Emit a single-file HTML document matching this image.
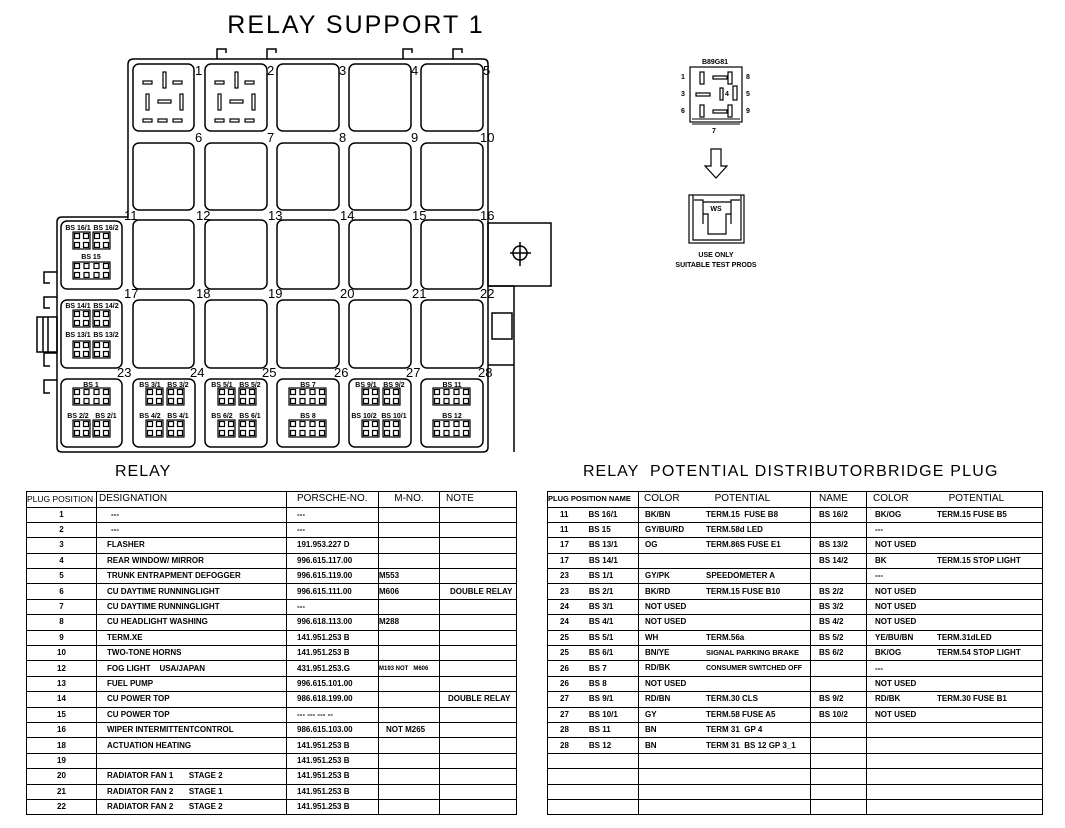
<!DOCTYPE html>
<html><head><meta charset="utf-8">
<style>
html,body{margin:0;padding:0;background:#fff;}
body{width:1065px;height:828px;position:relative;overflow:hidden;font-family:"Liberation Sans",sans-serif;}
svg{position:absolute;left:0;top:0;}
table{position:absolute;border-collapse:collapse;table-layout:fixed;font-family:"Liberation Sans",sans-serif;font-size:8px;font-weight:bold;}
td{border:1.3px solid #000;padding:0;height:14.4px;line-height:10px;white-space:nowrap;overflow:hidden;vertical-align:middle;}
tr.h td{height:14.5px;font-weight:normal;font-size:10px;}
.c{text-align:center}
.p{padding-left:10px}
.t{position:absolute;font-size:16px;letter-spacing:1px;white-space:nowrap;}
</style></head><body>
<svg width="1065" height="828" viewBox="0 0 1065 828">
<defs>
<g id="q4" fill="none" stroke="#000" stroke-width="1.2"><rect x="0" y="0" width="17" height="17"/><rect x="1.5" y="1.5" width="5" height="5"/><rect x="10.5" y="1.5" width="5" height="5"/><rect x="1.5" y="10.5" width="5" height="5"/><rect x="10.5" y="10.5" width="5" height="5"/></g>
<g id="q8" fill="none" stroke="#000" stroke-width="1.2"><rect x="0" y="0" width="37" height="17"/><rect x="1.5" y="1.5" width="5" height="5"/><rect x="11" y="1.5" width="5" height="5"/><rect x="21" y="1.5" width="5" height="5"/><rect x="30.5" y="1.5" width="5" height="5"/><rect x="1.5" y="10.5" width="5" height="5"/><rect x="11" y="10.5" width="5" height="5"/><rect x="21" y="10.5" width="5" height="5"/><rect x="30.5" y="10.5" width="5" height="5"/></g>
<g id="sock" fill="none" stroke="#000" stroke-width="1.2"><rect x="10" y="17" width="9" height="3"/><rect x="30" y="8" width="3" height="16"/><rect x="40" y="17" width="9" height="3"/><rect x="13" y="30" width="3" height="16"/><rect x="25" y="36" width="13" height="3"/><rect x="47" y="30" width="3" height="16"/><rect x="10" y="55" width="9" height="3"/><rect x="25" y="55" width="9" height="3"/><rect x="40" y="55" width="9" height="3"/></g>
</defs>
<text x="356" y="33" font-size="25" text-anchor="middle" letter-spacing="2" font-family="Liberation Sans">RELAY SUPPORT 1</text>
<g fill="none" stroke="#000" stroke-width="1.5">
<path d="M134 59 H483 Q488 59 488 64 V447 Q488 452 483 452 H62 Q57 452 57 447 V222 Q57 217 62 217 H128 V64 Q128 59 134 59 Z"/>
<path d="M217 59 V49 H226 V53 M267 59 V49 H276 V53 M403 59 V49 H412 V53 M453 59 V49 H462 V53"/>
<path d="M57 272 H44 V283 H50 M57 297 H44 V308 H50 M57 353 H44 V366 H50 M57 380 H44 V393 H50"/>
<rect x="37" y="317" width="20" height="35"/><path d="M43 317 V352 M48 317 V352"/>
<rect x="488" y="223" width="63" height="63"/>
<circle cx="520" cy="253" r="7"/><path d="M510 253 H531 M520 242 V266"/>
<path d="M488 286 H514 V452"/><rect x="492" y="313" width="20" height="26"/><path d="M488 365 H514"/>
</g>
<g fill="none" stroke="#000" stroke-width="1.5">
<rect x="133" y="64" width="61" height="67" rx="6"/><rect x="205" y="64" width="62" height="67" rx="6"/><rect x="277" y="64" width="62" height="67" rx="6"/><rect x="349" y="64" width="62" height="67" rx="6"/><rect x="421" y="64" width="62" height="67" rx="6"/>
<rect x="133" y="143" width="61" height="67" rx="6"/><rect x="205" y="143" width="62" height="67" rx="6"/><rect x="277" y="143" width="62" height="67" rx="6"/><rect x="349" y="143" width="62" height="67" rx="6"/><rect x="421" y="143" width="62" height="67" rx="6"/>
<rect x="133" y="220" width="61" height="69" rx="6"/><rect x="205" y="220" width="62" height="69" rx="6"/><rect x="277" y="220" width="62" height="69" rx="6"/><rect x="349" y="220" width="62" height="69" rx="6"/><rect x="421" y="220" width="62" height="69" rx="6"/>
<rect x="133" y="300" width="61" height="68" rx="6"/><rect x="205" y="300" width="62" height="68" rx="6"/><rect x="277" y="300" width="62" height="68" rx="6"/><rect x="349" y="300" width="62" height="68" rx="6"/><rect x="421" y="300" width="62" height="68" rx="6"/>
<rect x="61" y="221" width="61" height="68" rx="6"/><rect x="61" y="300" width="61" height="68" rx="6"/>
<rect x="61" y="379" width="61" height="68" rx="6"/><rect x="133" y="379" width="62" height="68" rx="6"/><rect x="205" y="379" width="62" height="68" rx="6"/><rect x="277" y="379" width="62" height="68" rx="6"/><rect x="349" y="379" width="62" height="68" rx="6"/><rect x="421" y="379" width="62" height="68" rx="6"/>
</g>
<use href="#sock" x="133" y="64"/><use href="#sock" x="205" y="64"/>
<g font-size="13" font-family="Liberation Sans">
<text x="195" y="75">1</text><text x="267" y="75">2</text><text x="339" y="75">3</text><text x="411" y="75">4</text><text x="483" y="75">5</text>
<text x="195" y="142">6</text><text x="267" y="142">7</text><text x="339" y="142">8</text><text x="411" y="142">9</text><text x="480" y="142">10</text>
<text x="124" y="220">11</text><text x="196" y="220">12</text><text x="268" y="220">13</text><text x="340" y="220">14</text><text x="412" y="220">15</text><text x="480" y="220">16</text>
<text x="124" y="298">17</text><text x="196" y="298">18</text><text x="268" y="298">19</text><text x="340" y="298">20</text><text x="412" y="298">21</text><text x="480" y="298">22</text>
<text x="117" y="377">23</text><text x="190" y="377">24</text><text x="262" y="377">25</text><text x="334" y="377">26</text><text x="406" y="377">27</text><text x="478" y="377">28</text>
</g>
<g font-size="7" font-weight="bold" font-family="Liberation Sans" text-anchor="middle">
<text x="78" y="230">BS 16/1</text><text x="106" y="230">BS 16/2</text><text x="91" y="259">BS 15</text>
<text x="78" y="308">BS 14/1</text><text x="106" y="308">BS 14/2</text><text x="78" y="337">BS 13/1</text><text x="106" y="337">BS 13/2</text>
<text x="91" y="387">BS 1</text><text x="78" y="418">BS 2/2</text><text x="106" y="418">BS 2/1</text>
<text x="150" y="387">BS 3/1</text><text x="178" y="387">BS 3/2</text><text x="150" y="418">BS 4/2</text><text x="178" y="418">BS 4/1</text>
<text x="222" y="387">BS 5/1</text><text x="250" y="387">BS 5/2</text><text x="222" y="418">BS 6/2</text><text x="250" y="418">BS 6/1</text>
<text x="308" y="387">BS 7</text><text x="308" y="418">BS 8</text>
<text x="366" y="387">BS 9/1</text><text x="394" y="387">BS 9/2</text><text x="364" y="418">BS 10/2</text><text x="394" y="418">BS 10/1</text>
<text x="452" y="387">BS 11</text><text x="452" y="418">BS 12</text>
</g>
<use href="#q4" x="73" y="232"/><use href="#q4" x="93" y="232"/><use href="#q8" x="73" y="262"/>
<use href="#q4" x="73" y="310"/><use href="#q4" x="93" y="310"/><use href="#q4" x="73" y="341"/><use href="#q4" x="93" y="341"/>
<use href="#q8" x="73" y="388"/><use href="#q4" x="73" y="420"/><use href="#q4" x="93" y="420"/>
<use href="#q4" x="146" y="388"/><use href="#q4" x="167" y="388"/><use href="#q4" x="146" y="420"/><use href="#q4" x="167" y="420"/>
<use href="#q4" x="218" y="388"/><use href="#q4" x="239" y="388"/><use href="#q4" x="218" y="420"/><use href="#q4" x="239" y="420"/>
<use href="#q8" x="289" y="388"/><use href="#q8" x="289" y="420"/>
<use href="#q4" x="362" y="388"/><use href="#q4" x="383" y="388"/><use href="#q4" x="362" y="420"/><use href="#q4" x="383" y="420"/>
<use href="#q8" x="433" y="388"/><use href="#q8" x="433" y="420"/>
<g fill="none" stroke="#000" stroke-width="1.2">
<rect x="690" y="67" width="52" height="55"/>
<rect x="700" y="72" width="4" height="12"/><rect x="713" y="76" width="14" height="3"/><rect x="728" y="72" width="4" height="12"/>
<rect x="696" y="93" width="14" height="3"/><rect x="720" y="88" width="3" height="12"/><rect x="733" y="86" width="4" height="14"/>
<rect x="700" y="105" width="4" height="12"/><rect x="713" y="110" width="14" height="3"/><rect x="728" y="105" width="4" height="12"/>
<path d="M692 119 H740 M692 124 H740" stroke-width="1"/>
<path d="M711 149 V166 H705 L716 178 L727 166 H721 V149 Z"/>
<rect x="689" y="195" width="55" height="48"/><path d="M693 195 V240 H741 V195 M694 200 H703 V224 M740 200 H731 V224 M703 202 H731 V214 M703 214 H708 V234 H726 V214 H731"/>
</g>
<g font-size="7" font-weight="bold" font-family="Liberation Sans" text-anchor="middle">
<text x="715" y="64">B89G81</text><text x="683" y="79">1</text><text x="683" y="96">3</text><text x="683" y="113">6</text>
<text x="748" y="79">8</text><text x="748" y="96">5</text><text x="748" y="113">9</text><text x="727" y="96">4</text><text x="714" y="133">7</text>
<text x="716" y="211">WS</text><text x="716" y="257">USE ONLY</text><text x="716" y="267">SUITABLE TEST PRODS</text>
</g>
</svg>
<div class="t" style="left:115px;top:463px;">RELAY</div>
<div class="t" style="left:583px;top:463px;">RELAY</div>
<div class="t" style="left:650px;top:463px;letter-spacing:1.2px;">POTENTIAL DISTRIBUTORBRIDGE PLUG</div>

<table style="left:26px;top:491px;width:490px;">
<colgroup><col style="width:70px"><col style="width:190px"><col style="width:92px"><col style="width:61px"><col style="width:77px"></colgroup>
<tr class="h"><td style="font-size:8.5px">PLUG POSITION</td><td style="padding-left:2px">DESIGNATION</td><td class="p">PORSCHE-NO.</td><td class="c">M-NO.</td><td style="padding-left:6px">NOTE</td></tr>
<tr><td class="c">1</td><td style="padding-left:14px">---</td><td class="p">---</td><td></td><td></td></tr>
<tr><td class="c">2</td><td style="padding-left:14px">---</td><td class="p">---</td><td></td><td></td></tr>
<tr><td class="c">3</td><td class="p">FLASHER</td><td class="p">191.953.227 D</td><td></td><td></td></tr>
<tr><td class="c">4</td><td class="p">REAR WINDOW/ MIRROR</td><td class="p">996.615.117.00</td><td></td><td></td></tr>
<tr><td class="c">5</td><td class="p">TRUNK ENTRAPMENT DEFOGGER</td><td class="p">996.615.119.00</td><td>M553</td><td></td></tr>
<tr><td class="c">6</td><td class="p">CU DAYTIME RUNNINGLIGHT</td><td class="p">996.615.111.00</td><td>M606</td><td style="padding-left:10px">DOUBLE RELAY</td></tr>
<tr><td class="c">7</td><td class="p">CU DAYTIME RUNNINGLIGHT</td><td class="p">---</td><td></td><td></td></tr>
<tr><td class="c">8</td><td class="p">CU HEADLIGHT WASHING</td><td class="p">996.618.113.00</td><td>M288</td><td></td></tr>
<tr><td class="c">9</td><td class="p">TERM.XE</td><td class="p">141.951.253 B</td><td></td><td></td></tr>
<tr><td class="c">10</td><td class="p">TWO-TONE HORNS</td><td class="p">141.951.253 B</td><td></td><td></td></tr>
<tr><td class="c">12</td><td class="p">FOG LIGHT &nbsp;&nbsp;&nbsp;USA/JAPAN</td><td class="p">431.951.253.G</td><td style="font-size:6px">M193 NOT &nbsp; M606</td><td></td></tr>
<tr><td class="c">13</td><td class="p">FUEL PUMP</td><td class="p">996.615.101.00</td><td></td><td></td></tr>
<tr><td class="c">14</td><td class="p">CU POWER TOP</td><td class="p">986.618.199.00</td><td></td><td style="padding-left:8px">DOUBLE RELAY</td></tr>
<tr><td class="c">15</td><td class="p">CU POWER TOP</td><td class="p">--- --- --- --</td><td></td><td></td></tr>
<tr><td class="c">16</td><td class="p">WIPER INTERMITTENTCONTROL</td><td class="p">986.615.103.00</td><td style="padding-left:7px">NOT M265</td><td></td></tr>
<tr><td class="c">18</td><td class="p">ACTUATION HEATING</td><td class="p">141.951.253 B</td><td></td><td></td></tr>
<tr><td class="c">19</td><td class="p"></td><td class="p">141.951.253 B</td><td></td><td></td></tr>
<tr><td class="c">20</td><td class="p">RADIATOR FAN 1 &nbsp;&nbsp;&nbsp;&nbsp;&nbsp;&nbsp;STAGE 2</td><td class="p">141.951.253 B</td><td></td><td></td></tr>
<tr><td class="c">21</td><td class="p">RADIATOR FAN 2 &nbsp;&nbsp;&nbsp;&nbsp;&nbsp;&nbsp;STAGE 1</td><td class="p">141.951.253 B</td><td></td><td></td></tr>
<tr><td class="c">22</td><td class="p">RADIATOR FAN 2 &nbsp;&nbsp;&nbsp;&nbsp;&nbsp;&nbsp;STAGE 2</td><td class="p">141.951.253 B</td><td></td><td></td></tr>
</table>

<table style="left:547px;top:491px;width:495px;">
<colgroup><col style="width:91px"><col style="width:172px"><col style="width:56px"><col style="width:176px"></colgroup>
<tr class="h"><td style="font-size:7.5px;font-weight:bold">PLUG POSITION NAME</td><td><span style="padding-left:5px">COLOR</span><span style="padding-left:35px">POTENTIAL</span></td><td style="padding-left:8px">NAME</td><td><span style="padding-left:6px">COLOR</span><span style="padding-left:40px">POTENTIAL</span></td></tr>
<tr><td style="padding-left:12px">11<span style="padding-left:20px">BS 16/1</span></td><td><span style="display:inline-block;width:61px;padding-left:6px">BK/BN</span>TERM.15 &nbsp;FUSE B8</td><td style="padding-left:8px">BS 16/2</td><td><span style="display:inline-block;width:62px;padding-left:8px">BK/OG</span>TERM.15 FUSE B5</td></tr>
<tr><td style="padding-left:12px">11<span style="padding-left:20px">BS 15</span></td><td><span style="display:inline-block;width:61px;padding-left:6px">GY/BU/RD</span>TERM.58d LED</td><td></td><td><span style="padding-left:8px">---</span></td></tr>
<tr><td style="padding-left:12px">17<span style="padding-left:20px">BS 13/1</span></td><td><span style="display:inline-block;width:61px;padding-left:6px">OG</span>TERM.86S FUSE E1</td><td style="padding-left:8px">BS 13/2</td><td><span style="padding-left:8px">NOT USED</span></td></tr>
<tr><td style="padding-left:12px">17<span style="padding-left:20px">BS 14/1</span></td><td></td><td style="padding-left:8px">BS 14/2</td><td><span style="display:inline-block;width:62px;padding-left:8px">BK</span>TERM.15 STOP LIGHT</td></tr>
<tr><td style="padding-left:12px">23<span style="padding-left:20px">BS 1/1</span></td><td><span style="display:inline-block;width:61px;padding-left:6px">GY/PK</span>SPEEDOMETER A</td><td></td><td><span style="padding-left:8px">---</span></td></tr>
<tr><td style="padding-left:12px">23<span style="padding-left:20px">BS 2/1</span></td><td><span style="display:inline-block;width:61px;padding-left:6px">BK/RD</span>TERM.15 FUSE B10</td><td style="padding-left:8px">BS 2/2</td><td><span style="padding-left:8px">NOT USED</span></td></tr>
<tr><td style="padding-left:12px">24<span style="padding-left:20px">BS 3/1</span></td><td><span style="padding-left:6px">NOT USED</span></td><td style="padding-left:8px">BS 3/2</td><td><span style="padding-left:8px">NOT USED</span></td></tr>
<tr><td style="padding-left:12px">24<span style="padding-left:20px">BS 4/1</span></td><td><span style="padding-left:6px">NOT USED</span></td><td style="padding-left:8px">BS 4/2</td><td><span style="padding-left:8px">NOT USED</span></td></tr>
<tr><td style="padding-left:12px">25<span style="padding-left:20px">BS 5/1</span></td><td><span style="display:inline-block;width:61px;padding-left:6px">WH</span>TERM.56a</td><td style="padding-left:8px">BS 5/2</td><td><span style="display:inline-block;width:62px;padding-left:8px">YE/BU/BN</span>TERM.31dLED</td></tr>
<tr><td style="padding-left:12px">25<span style="padding-left:20px">BS 6/1</span></td><td><span style="display:inline-block;width:61px;padding-left:6px">BN/YE</span><span style="font-size:7.5px">SIGNAL PARKING BRAKE</span></td><td style="padding-left:8px">BS 6/2</td><td><span style="display:inline-block;width:62px;padding-left:8px">BK/OG</span>TERM.54 STOP LIGHT</td></tr>
<tr><td style="padding-left:12px">26<span style="padding-left:20px">BS 7</span></td><td><span style="display:inline-block;width:61px;padding-left:6px">RD/BK</span><span style="font-size:7px">CONSUMER SWITCHED OFF</span></td><td></td><td><span style="padding-left:8px">---</span></td></tr>
<tr><td style="padding-left:12px">26<span style="padding-left:20px">BS 8</span></td><td><span style="padding-left:6px">NOT USED</span></td><td></td><td><span style="padding-left:8px">NOT USED</span></td></tr>
<tr><td style="padding-left:12px">27<span style="padding-left:20px">BS 9/1</span></td><td><span style="display:inline-block;width:61px;padding-left:6px">RD/BN</span>TERM.30 CLS</td><td style="padding-left:8px">BS 9/2</td><td><span style="display:inline-block;width:62px;padding-left:8px">RD/BK</span>TERM.30 FUSE B1</td></tr>
<tr><td style="padding-left:12px">27<span style="padding-left:20px">BS 10/1</span></td><td><span style="display:inline-block;width:61px;padding-left:6px">GY</span>TERM.58 FUSE A5</td><td style="padding-left:8px">BS 10/2</td><td><span style="padding-left:8px">NOT USED</span></td></tr>
<tr><td style="padding-left:12px">28<span style="padding-left:20px">BS 11</span></td><td><span style="display:inline-block;width:61px;padding-left:6px">BN</span>TERM 31 &nbsp;GP 4</td><td></td><td></td></tr>
<tr><td style="padding-left:12px">28<span style="padding-left:20px">BS 12</span></td><td><span style="display:inline-block;width:61px;padding-left:6px">BN</span>TERM 31 &nbsp;BS 12 GP 3_1</td><td></td><td></td></tr>
<tr><td></td><td></td><td></td><td></td></tr>
<tr><td></td><td></td><td></td><td></td></tr>
<tr><td></td><td></td><td></td><td></td></tr>
<tr><td></td><td></td><td></td><td></td></tr>
</table>
</body></html>
